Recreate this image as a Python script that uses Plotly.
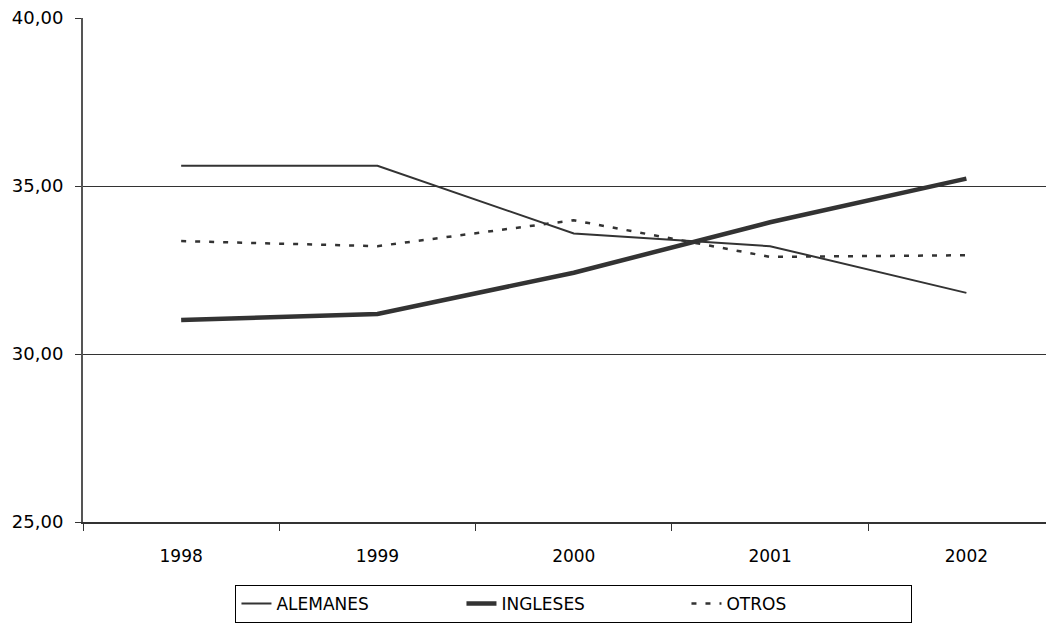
import plotly.graph_objects as go

years = ["1998", "1999", "2000", "2001", "2002"]
alemanes = [35.60, 35.60, 33.59, 33.21, 31.82]
ingleses = [31.01, 31.19, 32.42, 33.92, 35.22]
otros = [33.36, 33.21, 33.98, 32.89, 32.94]

line_color = "#333333"

fig = go.Figure()
fig.add_trace(go.Scatter(
    x=years, y=alemanes, mode="lines", name="ALEMANES",
    line=dict(color=line_color, width=2),
))
fig.add_trace(go.Scatter(
    x=years, y=ingleses, mode="lines", name="INGLESES",
    line=dict(color=line_color, width=4.5),
))
fig.add_trace(go.Scatter(
    x=years, y=otros, mode="lines", name="OTROS",
    line=dict(color=line_color, width=2.5, dash="5px,9px"),
))

fig.update_layout(
    width=1054, height=632,
    template="plotly_white",
    paper_bgcolor="white", plot_bgcolor="white",
    margin=dict(l=75, r=0, t=10, b=118, autoexpand=False),
    font=dict(family="DejaVu Sans", size=17, color="black"),
    separators=",.",
    showlegend=True,
    legend=dict(
        orientation="h", x=0.5015, xanchor="center", y=-0.125, yanchor="top",
        bordercolor="black", borderwidth=1, bgcolor="white",
        entrywidth=180, entrywidthmode="pixels",
        font=dict(size=17),
    ),
    xaxis=dict(
        range=[-0.5, 4.487], showgrid=False, tickson="boundaries",
        ticks="outside", ticklen=7, tickcolor=line_color,
        showline=True, linecolor=line_color, linewidth=1.5,
        tickfont=dict(size=17), ticklabelstandoff=18,
        zeroline=False, automargin=False,
    ),
    yaxis=dict(
        range=[25, 40.001], tickvals=[25, 30, 35, 40], tickformat=".2f",
        showgrid=True, gridcolor=line_color, gridwidth=1,
        ticks="outside", ticklen=6, tickcolor=line_color,
        showline=True, linecolor="#555555", linewidth=2,
        tickfont=dict(size=18), ticklabelstandoff=8, ticklabeloverflow="allow",
        zeroline=False, automargin=False,
    ),
)

fig.write_html("out.html")
